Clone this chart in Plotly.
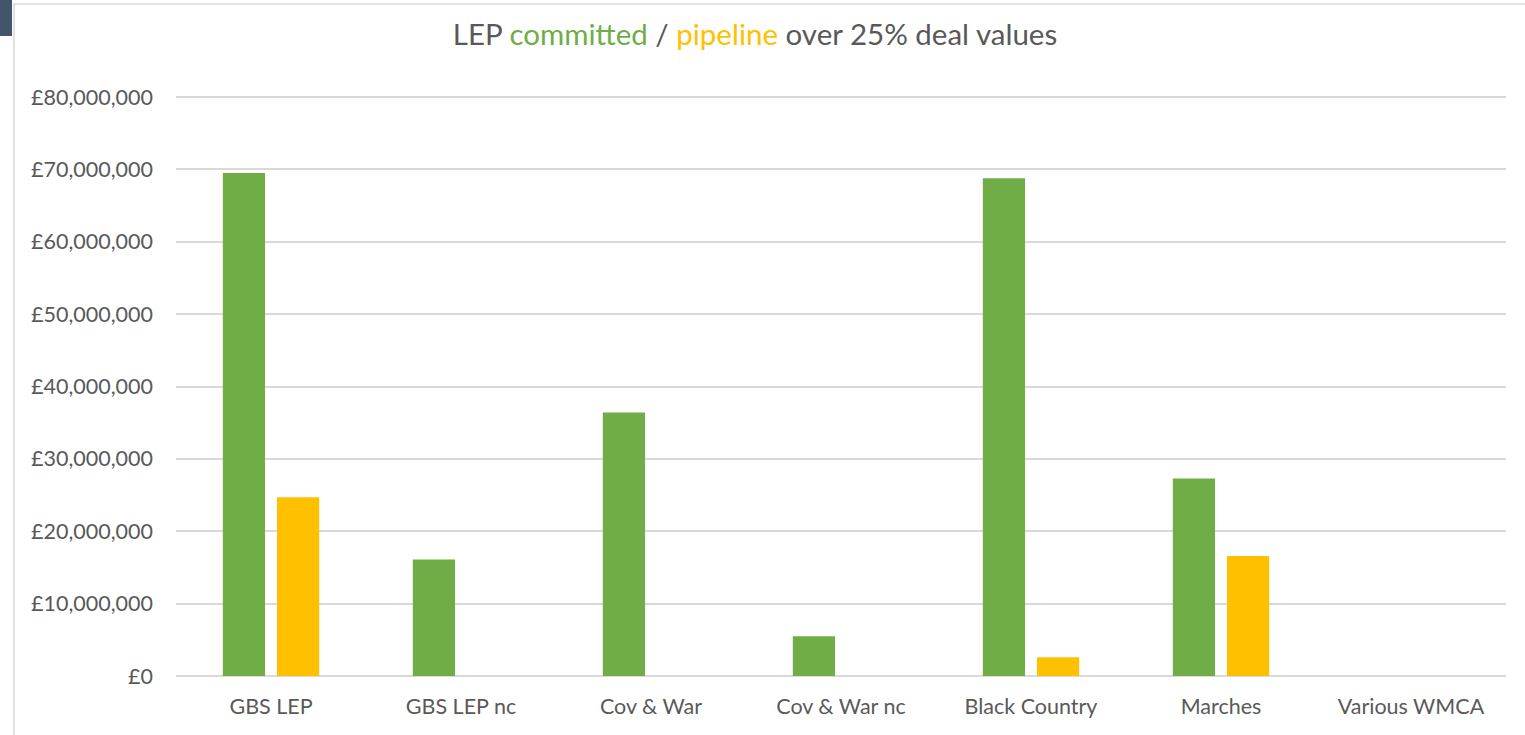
import plotly.graph_objects as go

categories = ["GBS LEP", "GBS LEP nc", "Cov & War", "Cov & War nc", "Black Country", "Marches", "Various WMCA"]
committed = [69.5e6, 16.1e6, 36.4e6, 5.5e6, 68.8e6, 27.3e6, 0]
pipeline = [24.7e6, 0, 0, 0, 2.6e6, 16.6e6, 0]
y_ticks = [0, 10e6, 20e6, 30e6, 40e6, 50e6, 60e6, 70e6, 80e6]
y_tick_text = ["\u00a3" + f"{v:,.0f}" for v in y_ticks]

GREEN = "#70AD47"
YELLOW = "#FFC000"
TEXT = "#595959"
GRID = "#D9D9D9"
FONT = "Lato, 'Open Sans', sans-serif"

W, H = 1525, 735
L, R, T, B = 176, 1506, 96, 676

fig = go.Figure()
fig.add_trace(go.Bar(x=categories, y=committed, name="committed", marker_color=GREEN,
                     marker_line_width=0))
fig.add_trace(go.Bar(x=categories, y=pipeline, name="pipeline", marker_color=YELLOW,
                     marker_line_width=0))

def px_to_paper_x(px):
    return (px - L) / (R - L)

def px_to_paper_y(py):
    return (B - py) / (B - T)

title_text = (f"LEP <span style='color:{GREEN}'>committed</span> / "
              f"<span style='color:{YELLOW}'>pipeline</span> over 25% deal values")

fig.update_layout(
    width=W, height=H,
    margin=dict(l=L, r=W - R, t=T, b=H - B, pad=0),
    paper_bgcolor="white", plot_bgcolor="white",
    barmode="group", bargap=0.43, bargroupgap=0.22,
    showlegend=False,
    font=dict(family=FONT, color=TEXT, size=21.5),
    title=dict(
        text=title_text,
        x=755 / W, xref="container", xanchor="center",
        y=1 - 35 / H, yref="container", yanchor="middle",
        font=dict(family=FONT, size=29.5, color=TEXT),
    ),
    xaxis=dict(showgrid=False, showline=False, zeroline=False, ticks="",
               tickfont=dict(size=21.5, color=TEXT), ticklabelstandoff=15),
    yaxis=dict(range=[0, 80.15e6], tickmode="array", tickvals=y_ticks, ticktext=y_tick_text,
               showgrid=True, gridcolor=GRID, gridwidth=1.5,
               zeroline=True, zerolinecolor=GRID, zerolinewidth=1.5,
               showline=False, ticks="", tickfont=dict(size=21.5, color=TEXT),
               ticklabelstandoff=22),
    shapes=[
        dict(type="rect", xref="paper", yref="paper",
             x0=px_to_paper_x(14), x1=px_to_paper_x(1540),
             y0=px_to_paper_y(760), y1=px_to_paper_y(4),
             line=dict(color="#D9D9D9", width=1.5), fillcolor="rgba(0,0,0,0)", layer="below"),
        dict(type="rect", xref="paper", yref="paper",
             x0=px_to_paper_x(0), x1=px_to_paper_x(12),
             y0=px_to_paper_y(36), y1=px_to_paper_y(0),
             line=dict(width=0), fillcolor="#44546A", layer="above"),
    ],
)

fig.write_html("out.html", config={"displayModeBar": False},
               post_script="document.body.style.margin='0px';")
